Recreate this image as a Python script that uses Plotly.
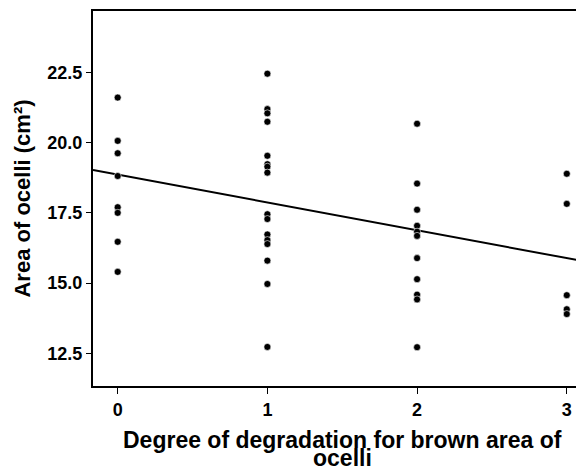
import plotly.graph_objects as go

# degree of degradation (x) and area of ocelli (y)
deg0 = [21.60, 20.06, 19.62, 18.81, 17.70, 17.50, 16.47, 15.40]
deg1 = [22.45, 21.19, 21.04, 20.74, 19.53, 19.23, 19.14, 18.93,
        17.45, 17.28, 16.73, 16.53, 16.39, 15.80, 14.97, 12.73]
deg2 = [20.67, 18.54, 17.61, 17.04, 16.83, 16.68, 15.89, 15.14, 14.59, 14.42, 12.72]
deg3 = [18.89, 17.82, 14.57, 14.07, 13.90]
groups = [0, 1, 2, 3]

# fitted line as drawn in the source chart
line_intercept = 18.86
line_slope = -0.99

x_range = [-0.165, 3.115]
y_range = [11.34, 24.68]
y_ticks = [12.5, 15.0, 17.5, 20.0, 22.5]
x_title_lines = ["Degree of degradation for brown area of", "ocelli"]
y_title = "Area of ocelli (cm²)"

xs, ys = [], []
for g, vals in zip(groups, [deg0, deg1, deg2, deg3]):
    xs += [g] * len(vals)
    ys += vals

fig = go.Figure()
fig.add_trace(go.Scatter(
    x=x_range, y=[line_intercept + line_slope * v for v in x_range],
    mode="lines", line=dict(color="black", width=2), hoverinfo="skip"))
fig.add_trace(go.Scatter(
    x=xs, y=ys, mode="markers",
    marker=dict(color="black", size=7, line=dict(color="white", width=0.6))))

font = "Liberation Sans, Arial, sans-serif"
# page body has an 8px margin, so the figure is a bit smaller than the window
fig.update_layout(
    width=576, height=464,
    margin=dict(l=85, r=0, t=3, b=86, autoexpand=False),
    paper_bgcolor="white", plot_bgcolor="white",
    showlegend=False,
    font=dict(family=font, color="black"),
)
fig.update_xaxes(
    range=x_range, tickvals=groups, ticktext=[str(g) for g in groups],
    showgrid=False, zeroline=False,
    showline=True, linecolor="black", linewidth=2, mirror=True,
    ticks="outside", ticklen=6, tickwidth=1, tickcolor="black",
    tickfont=dict(size=18, family=font, weight="bold"),
)
fig.update_yaxes(
    range=y_range, tickvals=y_ticks, ticktext=[f"{v:.1f}" for v in y_ticks],
    showgrid=False, zeroline=False,
    showline=True, linecolor="black", linewidth=2,
    ticks="outside", ticklen=5, tickwidth=1, tickcolor="black",
    tickfont=dict(size=18, family=font, weight="bold"),
    title=dict(text=y_title, font=dict(size=22, family=font, weight="bold"), standoff=11),
)
for i, t in enumerate(x_title_lines):
    fig.add_annotation(
        text=t, xref="paper", yref="paper", x=0.5, y=0,
        yanchor="middle", xshift=4, yshift=-54 - 18 * i, showarrow=False,
        font=dict(size=23, family=font, weight="bold"))

fig.write_html("out.html")
